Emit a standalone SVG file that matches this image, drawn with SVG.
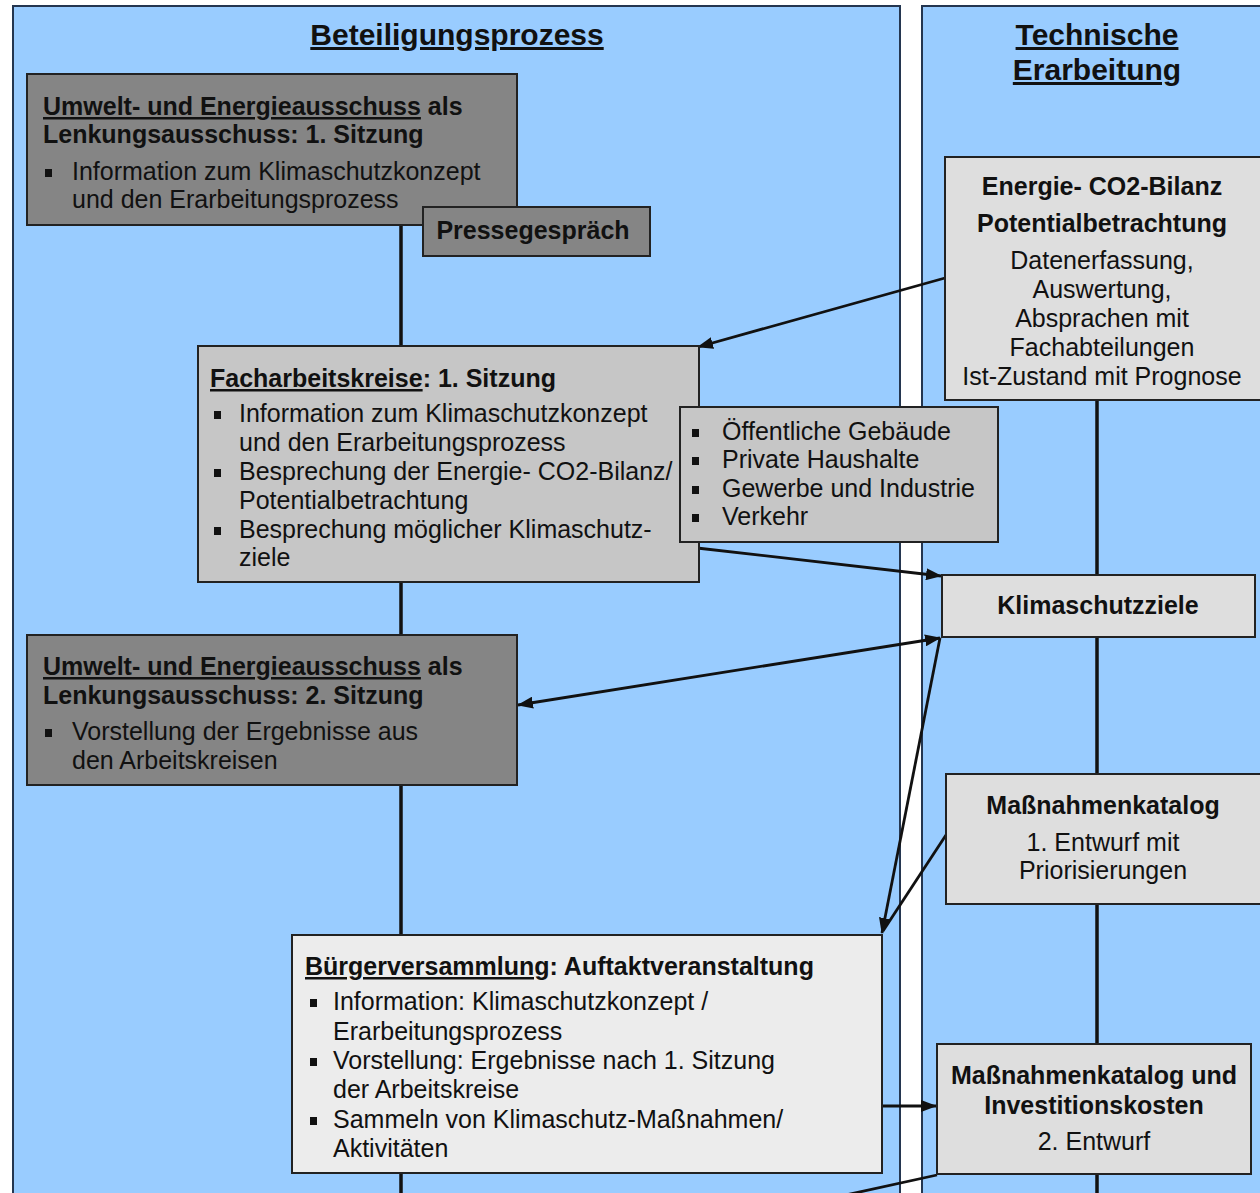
<svg xmlns="http://www.w3.org/2000/svg" width="1260" height="1193" viewBox="0 0 1260 1193">
<style>
text{font-family:"Liberation Sans",Arial,sans-serif;font-size:25px;fill:#111}
.b{font-weight:bold}
.t{font-size:30px;font-weight:bold;text-decoration:underline}
.u{text-decoration:underline}
.c{text-anchor:middle}
.panel{fill:#99ccff;stroke:#243650;stroke-width:2}
.box{stroke:#222;stroke-width:2}
.dark{fill:#858585}
.mid{fill:#c6c6c6}
.light{fill:#dedede}
.pale{fill:#ececec}
.vl{stroke:#111;stroke-width:3.5;fill:none}
.ar{stroke:#111;stroke-width:2.8;fill:none}
.bl{fill:#111}
</style>
<defs>
<marker id="ah" viewBox="0 0 16 12" refX="15" refY="6" markerWidth="16" markerHeight="12" markerUnits="userSpaceOnUse" orient="auto-start-reverse">
<path d="M0,0 L16,6 L0,12 z" fill="#111"/>
</marker>
</defs>
<rect width="1260" height="1193" fill="#ffffff"/>
<g id="panel-beteiligung">
<rect class="panel" x="13" y="6" width="887" height="1200"/>
<text class="t c" x="457" y="45">Beteiligungsprozess</text>
</g>
<g id="panel-technisch">
<rect class="panel" x="922" y="6" width="350" height="1200"/>
<text class="t c" x="1097" y="45">Technische</text>
<text class="t c" x="1097" y="80">Erarbeitung</text>
</g>
<g id="connectors">
<line class="vl" x1="401" y1="225" x2="401" y2="1193"/>
<line class="vl" x1="1097" y1="400" x2="1097" y2="1193"/>
<line class="ar" x1="945" y1="278" x2="698" y2="347" marker-end="url(#ah)"/>
<line class="ar" x1="697" y1="548" x2="941" y2="576" marker-end="url(#ah)"/>
<line class="ar" x1="518" y1="705" x2="940" y2="638" marker-start="url(#ah)" marker-end="url(#ah)"/>
<line class="ar" x1="940" y1="638" x2="882" y2="933" marker-end="url(#ah)"/>
<line class="ar" x1="946" y1="835" x2="883" y2="931"/>
<line class="ar" x1="882" y1="1106" x2="936" y2="1106" marker-end="url(#ah)"/>
<line class="ar" x1="937" y1="1175" x2="800" y2="1205"/>
</g>
<g id="node-lenkung1">
<rect class="box dark" x="27" y="74" width="490" height="151"/>
<text class="b" x="43" y="115"><tspan class="u">Umwelt- und Energieausschuss</tspan> als</text>
<text class="b" x="43" y="143">Lenkungsausschuss: 1. Sitzung</text>
<rect class="bl" x="45" y="169" width="7" height="8"/>
<text x="72" y="180">Information zum Klimaschutzkonzept</text>
<text x="72" y="208">und den Erarbeitungsprozess</text>
</g>
<g id="node-presse">
<rect class="box dark" x="423" y="207" width="227" height="49"/>
<text class="b c" x="533" y="239">Pressegespräch</text>
</g>
<g id="node-energie">
<rect class="box light" x="945" y="157" width="320" height="243"/>
<text class="b c" x="1102" y="195">Energie- CO2-Bilanz</text>
<text class="b c" x="1102" y="232">Potentialbetrachtung</text>
<text class="c" x="1102" y="269">Datenerfassung,</text>
<text class="c" x="1102" y="298">Auswertung,</text>
<text class="c" x="1102" y="327">Absprachen mit</text>
<text class="c" x="1102" y="356">Fachabteilungen</text>
<text class="c" x="1102" y="385">Ist-Zustand mit Prognose</text>
</g>
<g id="node-facharbeitskreise">
<rect class="box mid" x="198" y="346" width="501" height="236"/>
<text class="b" x="210" y="387"><tspan class="u">Facharbeitskreise</tspan>: 1. Sitzung</text>
<rect class="bl" x="214" y="411" width="7" height="8"/>
<text x="239" y="422">Information zum Klimaschutzkonzept</text>
<text x="239" y="451">und den Erarbeitungsprozess</text>
<rect class="bl" x="214" y="469" width="7" height="8"/>
<text x="239" y="480">Besprechung der Energie- CO2-Bilanz/</text>
<text x="239" y="509">Potentialbetrachtung</text>
<rect class="bl" x="214" y="527" width="7" height="8"/>
<text x="239" y="538">Besprechung möglicher Klimaschutz-</text>
<text x="239" y="566">ziele</text>
</g>
<g id="node-sektoren">
<rect class="box mid" x="680" y="407" width="318" height="135"/>
<rect class="bl" x="692" y="429" width="7" height="8"/>
<text x="722" y="440">Öffentliche Gebäude</text>
<rect class="bl" x="692" y="457" width="7" height="8"/>
<text x="722" y="468">Private Haushalte</text>
<rect class="bl" x="692" y="486" width="7" height="8"/>
<text x="722" y="497">Gewerbe und Industrie</text>
<rect class="bl" x="692" y="514" width="7" height="8"/>
<text x="722" y="525">Verkehr</text>
</g>
<g id="node-klimaschutzziele">
<rect class="box light" x="942" y="575" width="313" height="62"/>
<text class="b c" x="1098" y="614">Klimaschutzziele</text>
</g>
<g id="node-lenkung2">
<rect class="box dark" x="27" y="635" width="490" height="150"/>
<text class="b" x="43" y="675"><tspan class="u">Umwelt- und Energieausschuss</tspan> als</text>
<text class="b" x="43" y="704">Lenkungsausschuss: 2. Sitzung</text>
<rect class="bl" x="45" y="729" width="7" height="8"/>
<text x="72" y="740">Vorstellung der Ergebnisse aus</text>
<text x="72" y="769">den Arbeitskreisen</text>
</g>
<g id="node-massnahmen1">
<rect class="box light" x="946" y="774" width="320" height="130"/>
<text class="b c" x="1103" y="814">Maßnahmenkatalog</text>
<text class="c" x="1103" y="851">1. Entwurf mit</text>
<text class="c" x="1103" y="879">Priorisierungen</text>
</g>
<g id="node-buerger">
<rect class="box pale" x="292" y="935" width="590" height="238"/>
<text class="b" x="305" y="975"><tspan class="u">Bürgerversammlung</tspan>: Auftaktveranstaltung</text>
<rect class="bl" x="310" y="999" width="7" height="8"/>
<text x="333" y="1010">Information: Klimaschutzkonzept /</text>
<text x="333" y="1040">Erarbeitungsprozess</text>
<rect class="bl" x="310" y="1058" width="7" height="8"/>
<text x="333" y="1069">Vorstellung: Ergebnisse nach 1. Sitzung</text>
<text x="333" y="1098">der Arbeitskreise</text>
<rect class="bl" x="310" y="1117" width="7" height="8"/>
<text x="333" y="1128">Sammeln von Klimaschutz-Maßnahmen/</text>
<text x="333" y="1157">Aktivitäten</text>
</g>
<g id="node-massnahmen2">
<rect class="box light" x="937" y="1044" width="314" height="130"/>
<text class="b c" x="1094" y="1084">Maßnahmenkatalog und</text>
<text class="b c" x="1094" y="1114">Investitionskosten</text>
<text class="c" x="1094" y="1150">2. Entwurf</text>
</g>
</svg>
